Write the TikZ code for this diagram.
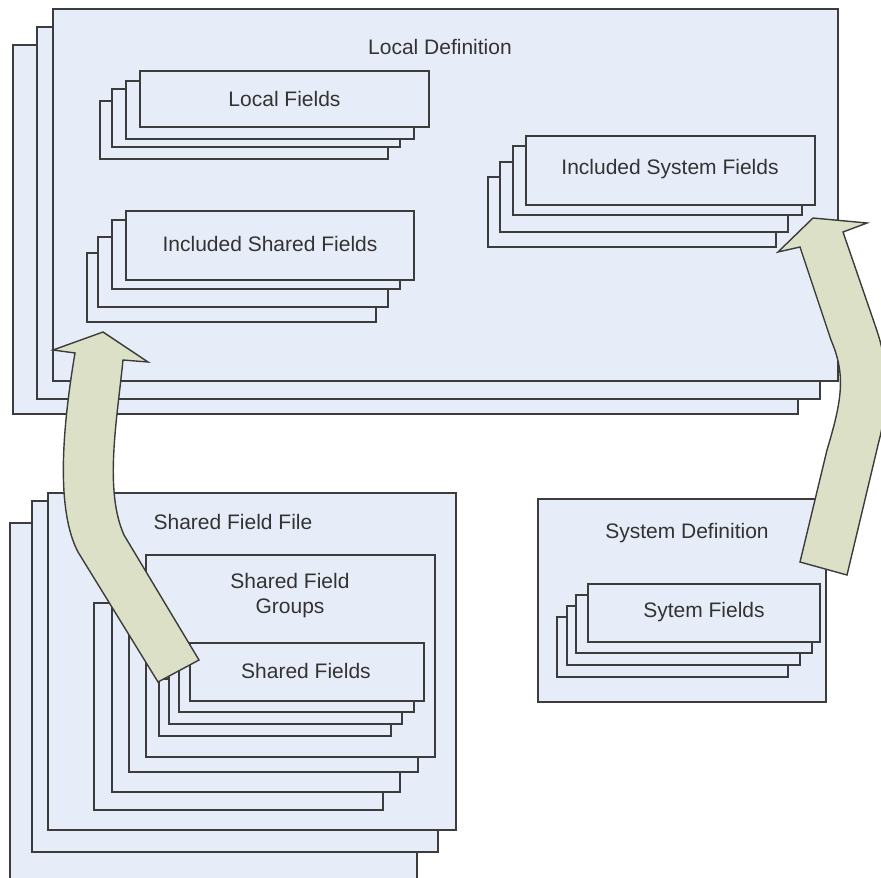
\documentclass[tikz,border=0pt]{standalone}
\usepackage{fontspec}
\setmainfont{Liberation Sans}
\usepackage{tikz}
\usetikzlibrary{positioning}
\definecolor{BoxFill}{HTML}{E7EDF8}
\definecolor{BoxLine}{HTML}{3C3C3C}
\definecolor{ArrowFill}{HTML}{DCE0C7}
\definecolor{LabelGray}{HTML}{333333}
\tikzset{
  fieldbox/.style={fill=BoxFill,draw=BoxLine,line width=1.4pt},
  bigarrow/.style={fill=ArrowFill,draw=BoxLine,line width=1.4pt,line join=miter},
  boxlabel/.style={text=LabelGray,font=\fontsize{21}{25}\selectfont,align=center,inner sep=0pt}
}
\begin{document}
\begin{tikzpicture}[line join=miter,x=1pt,y=-1pt]
\useasboundingbox (0,0) rectangle (881,878);
\fill[white] (0,0) rectangle (881,878);
\begin{scope}
\clip (0,0) rectangle (881,878);
\filldraw [fieldbox] (13,45) rectangle (798,414);
\filldraw [fieldbox] (37,27) rectangle (820,399);
\filldraw [fieldbox] (53,9) rectangle (838,381);
\node[boxlabel] (localdef) at (440,47) {Local Definition};
\filldraw [fieldbox] (100,101) rectangle (388,159);
\filldraw [fieldbox] (112,89) rectangle (400,147);
\filldraw [fieldbox] (126,81) rectangle (414,139);
\filldraw [fieldbox] (140,71) rectangle (429,127);
\node[boxlabel] (localfields) at (284.5,99) {Local Fields};
\filldraw [fieldbox] (87,253) rectangle (376,322);
\filldraw [fieldbox] (98,237) rectangle (388,307);
\filldraw [fieldbox] (112,220) rectangle (400,289);
\filldraw [fieldbox] (126,211) rectangle (414,280);
\node[boxlabel] (inclshared) at (270,244) {Included Shared Fields};
\filldraw [fieldbox] (488,177) rectangle (776,247);
\filldraw [fieldbox] (500,162) rectangle (788,232);
\filldraw [fieldbox] (513,146) rectangle (802,215);
\filldraw [fieldbox] (526,136) rectangle (815,205);
\node[boxlabel] (inclsystem) at (670,169) {Included System Fields};
\filldraw [fieldbox] (10,523) rectangle (417,890);
\filldraw [fieldbox] (32,501) rectangle (438,852);
\filldraw [fieldbox] (48,493) rectangle (456,830);
\node[boxlabel] (sharedfile) at (233,522) {Shared Field File};
\filldraw [fieldbox] (94,603) rectangle (383,810);
\filldraw [fieldbox] (112,587) rectangle (400,792);
\filldraw [fieldbox] (129,571) rectangle (418,772);
\filldraw [fieldbox] (146,555) rectangle (435,757);
\node[boxlabel] (sharedgroups) at (290,596) {Shared Field\\Groups};
\filldraw [fieldbox] (159,679) rectangle (391,736);
\filldraw [fieldbox] (169,667) rectangle (402,724);
\filldraw [fieldbox] (179,655) rectangle (414,712);
\filldraw [fieldbox] (190,643) rectangle (424,701);
\node[boxlabel] (sharedfields) at (306,671) {Shared Fields};
\filldraw [fieldbox] (538,499) rectangle (826,702);
\node[boxlabel] (systemdef) at (687,533) {System Definition};
\filldraw [fieldbox] (557,617) rectangle (788,677);
\filldraw [fieldbox] (567,606) rectangle (800,665);
\filldraw [fieldbox] (576,595) rectangle (812,653);
\filldraw [fieldbox] (588,584) rectangle (820,642);
\node[boxlabel] (systemfields) at (704,612) {Sytem Fields};
\filldraw [bigarrow] (103,332) -- (148,362) -- (123,360)
  .. controls (117,420) and (104,490) .. (124,535) -- (199,660) -- (158,682)
  -- (78,552) .. controls (56,510) and (62,430) .. (75,353) -- (53,350) -- cycle;
\filldraw [bigarrow] (813,218) -- (867,223) -- (843,232) -- (875,325)
  .. controls (888,362) and (891,395) .. (878,445) -- (847,575) -- (800,562)
  -- (827,450) .. controls (842,400) and (846,375) .. (831,340) -- (800,247) -- (778,252) -- cycle;
\end{scope}
\end{tikzpicture}
\end{document}
